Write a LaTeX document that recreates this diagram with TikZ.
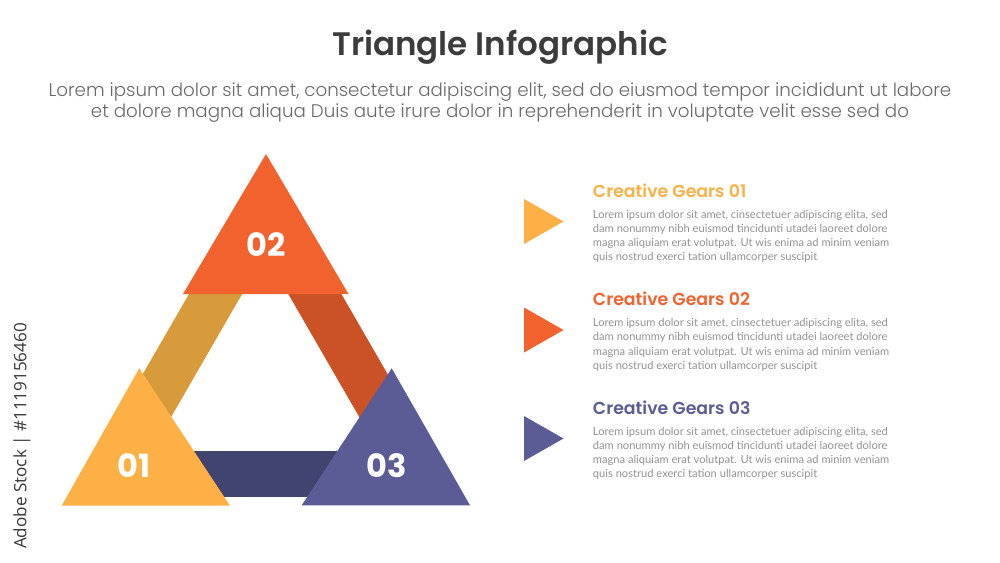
\documentclass[tikz,border=0pt]{standalone}
\usepackage{fontspec}
\usetikzlibrary{positioning}
\newfontfamily\popfont{Poppins}
\newfontfamily\popsemi{Poppins SemiBold}
\newfontfamily\poplight{Poppins Light}
\newfontfamily\latofont{Lato}
\newfontfamily\markfont{Open Sans}
\definecolor{tryellow}{HTML}{FDB045}
\definecolor{trorange}{HTML}{F2622E}
\definecolor{trpurple}{HTML}{5B5C96}
\definecolor{bandtan}{HTML}{D89B3C}
\definecolor{bandrust}{HTML}{CB5226}
\definecolor{bandnavy}{HTML}{424470}
\definecolor{titlegray}{HTML}{3C3C3C}
\definecolor{subgray}{HTML}{6A6A6A}
\definecolor{bodygray}{HTML}{929292}
\newcommand{\infotri}[5]{% name, apex, left, right, colour
  \coordinate (#1a) at (#2);
  \coordinate (#1b) at (#3);
  \coordinate (#1c) at (#4);
  \fill[#5] (#1a) -- (#1b) -- (#1c) -- cycle;
}
\newcommand{\gearitem}[3]{% arrow centre y, colour, number
  \coordinate (tip#3) at (563.5,#1);
  \fill[#2] (524,#1-22.5) -- (tip#3) -- (524,#1+22.5) -- cycle;
  \node[gearhead,text=#2] (head#3) at (592.7,#1-24.2) {Creative Gears #3};
  \node[gearbody,below=9pt of head#3.south west,anchor=north west] (body#3)
    {Lorem ipsum dolor sit amet, cinsectetuer adipiscing elita, sed\\
     dam nonummy nibh euismod tincidunti utadei laoreet dolore\\
     magna aliquiam erat volutpat. Ut wis enima ad minim veniam\\
     quis nostrud exerci tation ullamcorper suscipit};
}
\tikzset{
  band/.style={line width=34.5pt},
  numtext/.style={text=white,font=\popfont\bfseries\fontsize{24}{28}\selectfont},
  gearhead/.style={anchor=base west,inner sep=0pt,
    font=\popsemi\fontsize{13}{15}\selectfont},
  gearbody/.style={inner sep=0pt,align=left,text=bodygray,
    font=\latofont\fontsize{8.35}{10.65}\selectfont},
}

\begin{document}
\begin{tikzpicture}[x=.75pt,y=-.75pt]
  \useasboundingbox (0,0) rectangle (1000,563);
  \fill[white] (0,0) rectangle (1000,563);
  % title
  \node[anchor=base,text=titlegray,font=\popsemi\fontsize{24.4}{29}\selectfont] (title) at (500,56) {Triangle Infographic};
  \node[text=subgray,align=center,font=\poplight\fontsize{13.7}{16.1}\selectfont] (subtitle) at (500,102.5)
    {Lorem ipsum dolor sit amet, consectetur adipiscing elit, sed do eiusmod tempor incididunt ut labore\\
     et dolore magna aliqua Duis aute irure dolor in reprehenderit in voluptate velit esse sed do};
  % bands behind the triangles
  \coordinate (b12a) at (229.4,270);
  \coordinate (b12b) at (131.3,440);
  \coordinate (b23a) at (301,270);
  \coordinate (b23b) at (399.1,440);
  \coordinate (b13a) at (150,473.7);
  \coordinate (b13b) at (400,473.7);
  \draw[band,bandtan] (b12a) -- (b12b);
  \draw[band,bandrust] (b23a) -- (b23b);
  \draw[band,bandnavy] (b13a) -- (b13b);
  % triangles
  \infotri{tone}{139.3,368.3}{61.7,505.7}{230,505.7}{tryellow}
  \infotri{ttwo}{266,154}{183,294}{348.5,294}{trorange}
  \infotri{tthree}{391.7,368.3}{301.7,505.3}{470,505.3}{trpurple}
  \node[numtext] (n01) at (134,465.5) {01};
  \node[numtext] (n02) at (266,244.5) {02};
  \node[numtext] (n03) at (386.7,465.5) {03};
  % items
  \foreach \yc/\col/\num in {221.5/tryellow/01,330/trorange/02,438.5/trpurple/03}
    {\gearitem{\yc}{\col}{\num}}
  \node[rotate=90,text=black!78,font=\markfont\fontsize{12.8}{15}\selectfont] (stockmark) at (22,436) {Adobe Stock | \#1119156460};
\end{tikzpicture}
\end{document}
